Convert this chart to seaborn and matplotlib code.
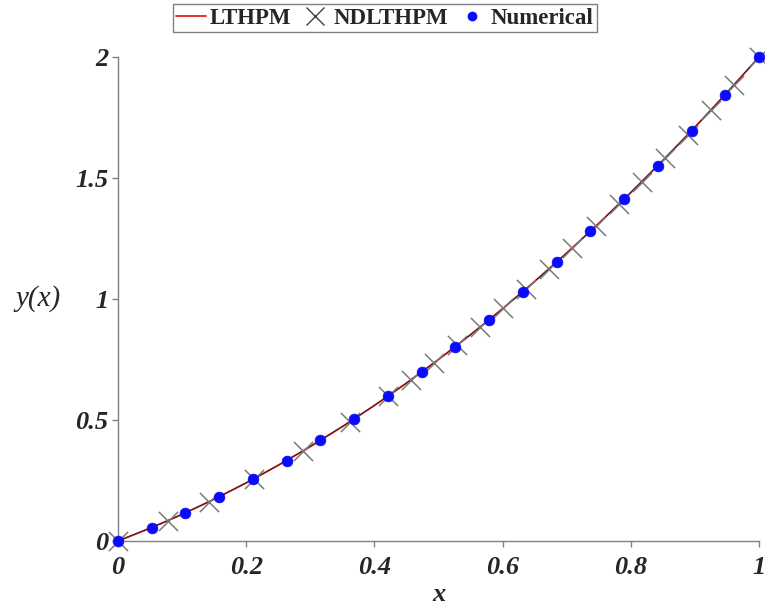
import numpy as np
import pandas as pd
import seaborn as sns
import matplotlib.pyplot as plt
from matplotlib.lines import Line2D

# ---------------------------------------------------------------- data
lthpm_x = [0.0, 0.05, 0.1, 0.15, 0.2, 0.25, 0.3, 0.35, 0.4, 0.45, 0.5,
           0.55, 0.6, 0.65, 0.7, 0.75, 0.8, 0.85, 0.9, 0.95, 1.0]
lthpm_y = [0.0, 0.0525, 0.11, 0.1725, 0.24, 0.3125, 0.39, 0.4725, 0.56, 0.6525, 0.75,
           0.8525, 0.96, 1.0725, 1.19, 1.3125, 1.44, 1.5725, 1.71, 1.8525, 2.0]

ndl_x = [0.0, 0.078, 0.142, 0.212, 0.289, 0.362, 0.421, 0.457, 0.493, 0.529, 0.565, 0.601,
         0.637, 0.673, 0.709, 0.745, 0.781, 0.817, 0.853, 0.889, 0.925, 0.961, 1.0]
ndl_y = [0.0, 0.084, 0.162, 0.257, 0.373, 0.493, 0.598, 0.666, 0.736, 0.809, 0.884, 0.962,
         1.043, 1.126, 1.212, 1.300, 1.391, 1.484, 1.581, 1.679, 1.781, 1.885, 2.0]

num_x = [0.0, 0.0526, 0.1053, 0.1579, 0.2105, 0.2632, 0.3158, 0.3684, 0.4211, 0.4737,
         0.5263, 0.5789, 0.6316, 0.6842, 0.7368, 0.7895, 0.8421, 0.8947, 0.9474, 1.0]
num_y = [0.0, 0.055, 0.116, 0.183, 0.255, 0.332, 0.416, 0.504, 0.598, 0.698,
         0.803, 0.914, 1.030, 1.152, 1.280, 1.413, 1.551, 1.695, 1.845, 2.0]

x_ticks = [0, 0.2, 0.4, 0.6, 0.8, 1]
x_tick_labels = ["0", "0.2", "0.4", "0.6", "0.8", "1"]
y_ticks = [0, 0.5, 1, 1.5, 2]
y_tick_labels = ["0", "0.5", "1", "1.5", "2"]

df_lthpm = pd.DataFrame({"x": lthpm_x, "y": lthpm_y})
df_ndl = pd.DataFrame({"x": ndl_x, "y": ndl_y})
df_num = pd.DataFrame({"x": num_x, "y": num_y})

# ---------------------------------------------------------------- style
sns.set_theme(style="white")
plt.rcParams['font.family'] = ['Liberation Serif', 'DejaVu Serif']

fig = plt.figure(figsize=(7.65, 6.08), dpi=100)
ax = fig.add_axes([118 / 765, 67 / 608, 641 / 765, 484 / 608])

sns.lineplot(data=df_lthpm, x="x", y="y", color="#e0201c", linewidth=1.3, ax=ax, legend=False)
sns.lineplot(data=df_ndl, x="x", y="y", color="#3a2020", linewidth=0.7, ax=ax, legend=False)
sns.scatterplot(data=df_ndl, x="x", y="y", marker="x", s=190, color="#7a7a7a",
                linewidth=1.1, ax=ax, legend=False, clip_on=False, zorder=3)
sns.scatterplot(data=df_num, x="x", y="y", marker="o", s=60, color="#0a0aff",
                edgecolor="#0a0aff", linewidth=0.5, ax=ax, legend=False, clip_on=False, zorder=4)

ax.set_xlim(0, 1)
ax.set_ylim(0, 2)
ax.set_xticks(x_ticks)
ax.set_xticklabels(x_tick_labels)
ax.set_yticks(y_ticks)
ax.set_yticklabels(y_tick_labels)
for lab in ax.get_xticklabels() + ax.get_yticklabels():
    lab.set_fontsize(19)
    lab.set_fontweight("bold")
    lab.set_fontstyle("italic")

ax.tick_params(axis="both", direction="out", length=4, width=1, color="#808080",
               bottom=True, left=True)
ax.tick_params(axis="x", pad=7)
ax.tick_params(axis="y", pad=3)

sns.despine(ax=ax)
for side in ["left", "bottom"]:
    ax.spines[side].set_color("#808080")
    ax.spines[side].set_linewidth(1)

ax.set_xlabel("x", fontsize=19, fontstyle="italic", fontweight="bold", labelpad=3)
ax.set_ylabel("")
fig.text(38 / 765, 1 - 299 / 608, "y(x)", fontsize=21, fontstyle="italic",
         ha="center", va="center")

handles = [
    Line2D([], [], color="#e0201c", linewidth=1.3),
    Line2D([], [], color="#404040", marker="x", linestyle="none", markersize=13, markeredgewidth=1),
    Line2D([], [], color="#0a0aff", marker="o", linestyle="none", markersize=6),
]
fig.legend(handles, ["LTHPM", "NDLTHPM", "Numerical"], loc="upper center",
           bbox_to_anchor=(385 / 765, 0.993), ncol=3, frameon=True, fancybox=False,
           edgecolor="#808080", framealpha=1, handlelength=1.3, handletextpad=0.15,
           columnspacing=0.4, borderpad=0.15, borderaxespad=0,
           prop={"weight": "bold", "size": 16.5})

plt.savefig("out.png", dpi=100)
